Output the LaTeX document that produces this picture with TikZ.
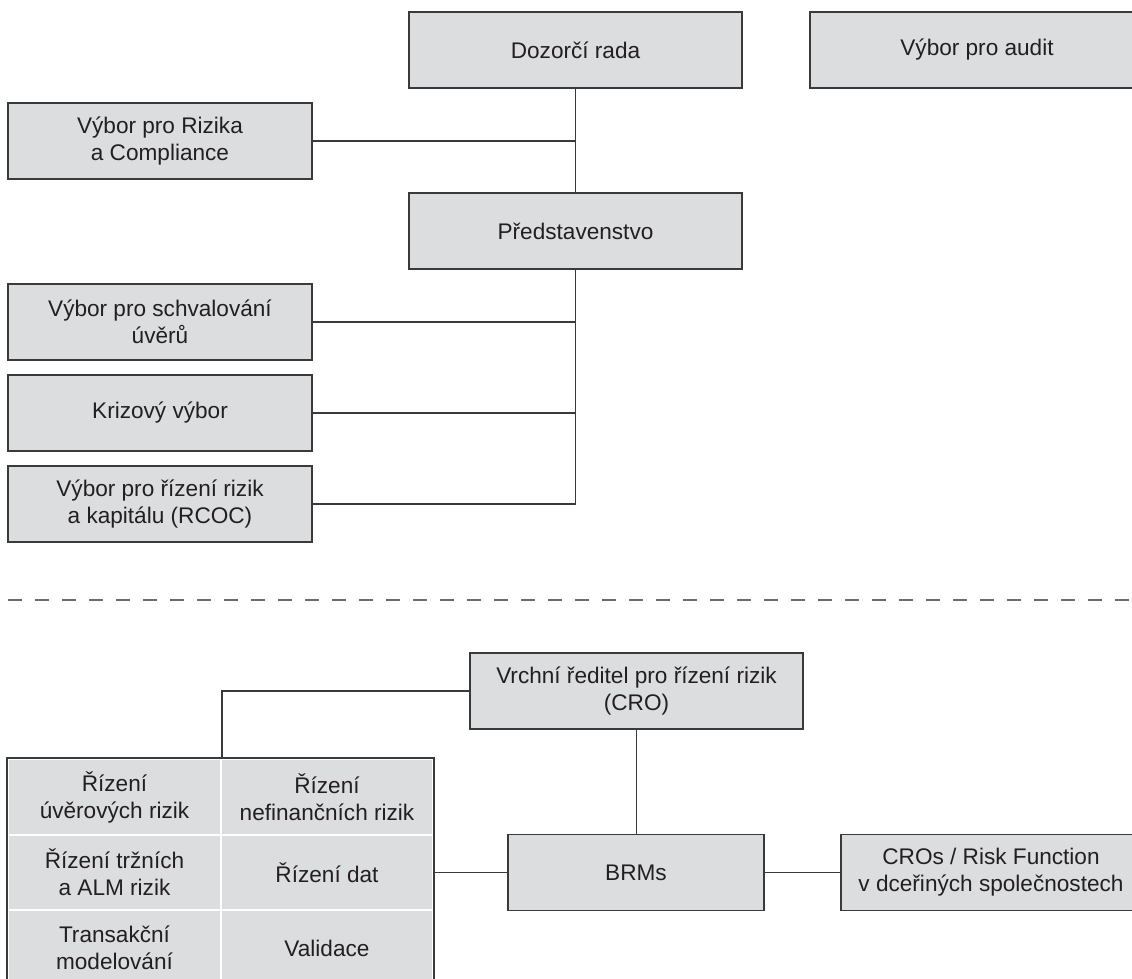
\documentclass[tikz,border=0pt]{standalone}
\usepackage{fontspec}
\setmainfont{Liberation Sans}
\definecolor{boxfill}{HTML}{DCDDDF}
\definecolor{boxline}{HTML}{3A3A3A}
\definecolor{inkc}{HTML}{231F20}
\definecolor{sepline}{HTML}{6B6B6B}
\begin{document}
\begin{tikzpicture}[x=1pt,y=-1pt,
  every node/.style={font=\fontsize{22.6}{27}\selectfont, text=inkc, align=center, inner sep=0pt},
  unit/.style={draw=boxline, line width=1.5pt, fill=boxfill, minimum height=76pt},
  cell/.style={draw=white, line width=2pt, fill=boxfill},
  link/.style={draw=boxline, line width=1.2pt},
  divider/.style={draw=sepline, line width=2pt, dash pattern=on 14pt off 13pt}]
\useasboundingbox (0,0) rectangle (1132,979);
\clip (0,0) rectangle (1132,979);

% supervisory level
\node[unit, minimum width=333pt] (doz) at (575.5,50) {Dozorčí rada};
\node[unit, minimum width=334pt] (aud) at (977,50) {Výbor pro audit};
\node[unit, minimum width=304pt] (riz) at (160,141) {Výbor pro Rizika\\a Compliance};
\node[unit, minimum width=333pt] (pred) at (575.5,231) {Představenstvo};

% committees of the board
\node[unit, minimum width=304pt] (schv) at (160,322) {Výbor pro schvalování\\úvěrů};
\node[unit, minimum width=304pt] (kriz) at (160,413) {Krizový výbor};
\node[unit, minimum width=304pt] (rcoc) at (160,504) {Výbor pro řízení rizik\\a kapitálu (RCOC)};

\draw[link] (doz.south) -- (pred.north);
\draw[link] (riz.east) -- (riz.east -| doz.south);
\draw[link] (pred.south) |- (rcoc.east);
\draw[link] (schv.east) -- (schv.east -| pred.south);
\draw[link] (kriz.east) -- (kriz.east -| pred.south);

% separator between governance and risk function
\coordinate (dl) at (8,600);
\coordinate (dr) at (1140,600);
\draw[divider] (dl) -- (dr);

% risk function
\node[unit, minimum width=333pt] (cro) at (636.5,691) {Vrchní ředitel pro řízení rizik\\(CRO)};
\node[unit, minimum width=256pt] (brms) at (636,872.5) {BRMs};
\node[unit, minimum width=300pt] (subs) at (991,872.5) {CROs / Risk Function\\v dceřiných společnostech};

% risk management units
\node[cell, minimum width=213pt, minimum height=76pt] (g11) at (114.5,797) {Řízení\\úvěrových rizik};
\node[cell, minimum width=212pt, minimum height=76pt] (g12) at (327,797) {Řízení\\nefinančních rizik};
\node[cell, minimum width=213pt, minimum height=75pt] (g21) at (114.5,872.5) {Řízení tržních\\a ALM rizik};
\node[cell, minimum width=212pt, minimum height=75pt] (g22) at (327,872.5) {Řízení dat};
\node[cell, minimum width=213pt, minimum height=76pt] (g31) at (114.5,948) {Transakční\\modelování};
\node[cell, minimum width=212pt, minimum height=76pt] (g32) at (327,948) {Validace};
\draw[draw=boxline, line width=1.5pt] (g11.north west) rectangle (g32.south east);

\draw[link] (cro.west) -| (g11.north east);
\draw[link] (cro.south) -- (cro.south |- brms.north);
\draw[link] (g22.east) -- (brms.west);
\draw[link] (brms.east) -- (subs.west);
\end{tikzpicture}
\end{document}
